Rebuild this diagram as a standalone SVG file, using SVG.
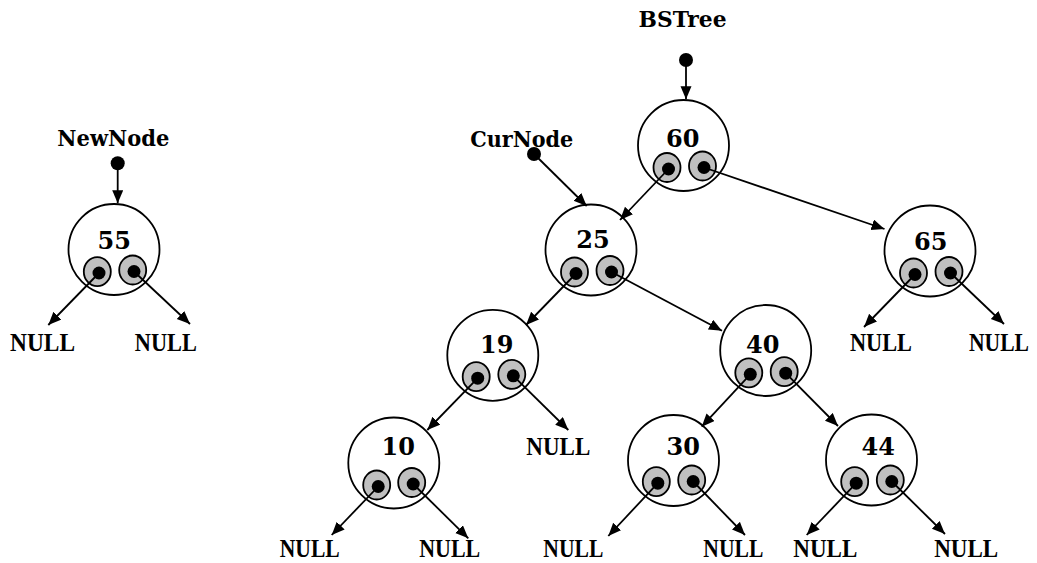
<svg xmlns="http://www.w3.org/2000/svg" width="1037" height="563" viewBox="0 0 1037 563">
<style>
.c{fill:#fff;stroke:#000;stroke-width:1.8}
.g{fill:#c0c0c0;stroke:#000;stroke-width:1.8}
.d{fill:#000}
.num{font-family:"DejaVu Serif",serif;font-weight:bold;font-size:24px;text-anchor:middle;fill:#000}
.lbl{font-family:"DejaVu Serif",serif;font-weight:bold;font-size:22px;text-anchor:middle;fill:#000}
.nul{font-family:"Liberation Serif",serif;font-weight:bold;font-size:25px;text-anchor:middle;fill:#000}
.e{stroke:#000;stroke-width:1.8;fill:none;marker-end:url(#ah)}
</style>
<defs>
<marker id="ah" markerUnits="userSpaceOnUse" markerWidth="14" markerHeight="12" refX="13" refY="5.5" orient="auto">
<path d="M0,0 L13,5.5 L0,11 z" fill="#000"/>
</marker>
</defs>
<rect width="1037" height="563" fill="#fff"/>
<g id="labels">
<text class="lbl" x="682.5" y="26.5" textLength="88" lengthAdjust="spacingAndGlyphs">BSTree</text>
<text class="lbl" x="113.3" y="146" textLength="112" lengthAdjust="spacingAndGlyphs">NewNode</text>
<text class="lbl" x="521.7" y="146.5" textLength="103" lengthAdjust="spacingAndGlyphs">CurNode</text>
<circle class="d" cx="117.7" cy="163.3" r="7"/>
<circle class="d" cx="686" cy="60" r="7"/>
<circle class="d" cx="534" cy="154" r="7"/>
</g>
<g id="n55">
<circle class="c" cx="114" cy="249.5" r="45.5"/>
<text class="num" x="114.3" y="249.3">55</text>
<ellipse class="g" cx="97.3" cy="271.7" rx="13.5" ry="14.5"/>
<ellipse class="g" cx="132.7" cy="270" rx="13.5" ry="14.5"/>
<circle class="d" cx="99" cy="273" r="6.5"/>
<circle class="d" cx="134" cy="271.5" r="6.5"/>
</g>
<g id="n60">
<circle class="c" cx="683.5" cy="145.5" r="45.5"/>
<text class="num" x="682.7" y="146.7">60</text>
<ellipse class="g" cx="667" cy="167.5" rx="13.5" ry="14.5"/>
<ellipse class="g" cx="702.5" cy="166" rx="13.5" ry="14.5"/>
<circle class="d" cx="668.5" cy="169" r="6.5"/>
<circle class="d" cx="704" cy="167.5" r="6.5"/>
</g>
<g id="n25">
<circle class="c" cx="591" cy="250" r="45.5"/>
<text class="num" x="593" y="248.3">25</text>
<ellipse class="g" cx="574.5" cy="272" rx="13.5" ry="14.5"/>
<ellipse class="g" cx="610" cy="270.5" rx="13.5" ry="14.5"/>
<circle class="d" cx="576" cy="273.5" r="6.5"/>
<circle class="d" cx="611.5" cy="272" r="6.5"/>
</g>
<g id="n65">
<circle class="c" cx="930" cy="251" r="45.5"/>
<text class="num" x="930.7" y="250">65</text>
<ellipse class="g" cx="913.5" cy="273" rx="13.5" ry="14.5"/>
<ellipse class="g" cx="949" cy="271.5" rx="13.5" ry="14.5"/>
<circle class="d" cx="915" cy="274.5" r="6.5"/>
<circle class="d" cx="950.5" cy="273" r="6.5"/>
</g>
<g id="n19">
<circle class="c" cx="492.8" cy="355.3" r="45.5"/>
<text class="num" x="496.7" y="352.7">19</text>
<ellipse class="g" cx="476.2" cy="376.7" rx="13.5" ry="14.5"/>
<ellipse class="g" cx="511.8" cy="374.3" rx="13.5" ry="14.5"/>
<circle class="d" cx="477.7" cy="378.2" r="6.5"/>
<circle class="d" cx="513.3" cy="375.8" r="6.5"/>
</g>
<g id="n40">
<circle class="c" cx="765.7" cy="350.5" r="45.5"/>
<text class="num" x="762.8" y="352.7">40</text>
<ellipse class="g" cx="748.8" cy="372.8" rx="13.5" ry="14.5"/>
<ellipse class="g" cx="784.2" cy="371.7" rx="13.5" ry="14.5"/>
<circle class="d" cx="750.3" cy="374.3" r="6.5"/>
<circle class="d" cx="785.7" cy="373.2" r="6.5"/>
</g>
<g id="n10">
<circle class="c" cx="393.8" cy="463" r="45.5"/>
<text class="num" x="398.3" y="455">10</text>
<ellipse class="g" cx="376.7" cy="485" rx="13.5" ry="14.5"/>
<ellipse class="g" cx="411.7" cy="482.5" rx="13.5" ry="14.5"/>
<circle class="d" cx="378.2" cy="486.5" r="6.5"/>
<circle class="d" cx="413.2" cy="484" r="6.5"/>
</g>
<g id="n30">
<circle class="c" cx="673.5" cy="460.5" r="45.5"/>
<text class="num" x="683.3" y="455">30</text>
<ellipse class="g" cx="656.3" cy="481.7" rx="13.5" ry="14.5"/>
<ellipse class="g" cx="691.7" cy="480" rx="13.5" ry="14.5"/>
<circle class="d" cx="657.8" cy="483.2" r="6.5"/>
<circle class="d" cx="693.2" cy="481.5" r="6.5"/>
</g>
<g id="n44">
<circle class="c" cx="871.5" cy="460" r="45.5"/>
<text class="num" x="878.3" y="455">44</text>
<ellipse class="g" cx="854.7" cy="481.7" rx="13.5" ry="14.5"/>
<ellipse class="g" cx="890.3" cy="480" rx="13.5" ry="14.5"/>
<circle class="d" cx="856.2" cy="483.2" r="6.5"/>
<circle class="d" cx="891.8" cy="481.5" r="6.5"/>
</g>
<g id="nulls">
<text class="nul" x="42.5" y="351" textLength="65" lengthAdjust="spacingAndGlyphs">NULL</text>
<text class="nul" x="165.8" y="351" textLength="62" lengthAdjust="spacingAndGlyphs">NULL</text>
<text class="nul" x="881" y="351" textLength="62" lengthAdjust="spacingAndGlyphs">NULL</text>
<text class="nul" x="999" y="351" textLength="60" lengthAdjust="spacingAndGlyphs">NULL</text>
<text class="nul" x="558.3" y="455" textLength="64" lengthAdjust="spacingAndGlyphs">NULL</text>
<text class="nul" x="309.7" y="556.5" textLength="60" lengthAdjust="spacingAndGlyphs">NULL</text>
<text class="nul" x="449.7" y="556.5" textLength="61" lengthAdjust="spacingAndGlyphs">NULL</text>
<text class="nul" x="573.3" y="556.5" textLength="60" lengthAdjust="spacingAndGlyphs">NULL</text>
<text class="nul" x="733.3" y="556.5" textLength="60" lengthAdjust="spacingAndGlyphs">NULL</text>
<text class="nul" x="825.3" y="556.5" textLength="64" lengthAdjust="spacingAndGlyphs">NULL</text>
<text class="nul" x="966.2" y="556.5" textLength="64" lengthAdjust="spacingAndGlyphs">NULL</text>
</g>
<g id="connectors">
<line class="e" x1="117.7" y1="163.3" x2="117.7" y2="203.3"/>
<line class="e" x1="686" y1="60" x2="686" y2="99.3"/>
<line class="e" x1="534" y1="154" x2="586.7" y2="206"/>
<line class="e" x1="99" y1="273" x2="48.3" y2="325"/>
<line class="e" x1="134" y1="271.5" x2="190" y2="324"/>
<line class="e" x1="668.5" y1="169" x2="620" y2="220"/>
<line class="e" x1="704" y1="167.5" x2="884.5" y2="229"/>
<line class="e" x1="576" y1="273.5" x2="526" y2="325"/>
<line class="e" x1="611.5" y1="272" x2="722" y2="330.7"/>
<line class="e" x1="915" y1="274.5" x2="864" y2="327"/>
<line class="e" x1="950.5" y1="273" x2="1004" y2="324"/>
<line class="e" x1="477.7" y1="378.2" x2="427.3" y2="430"/>
<line class="e" x1="513.3" y1="375.8" x2="568.3" y2="430"/>
<line class="e" x1="750.3" y1="374.3" x2="701.7" y2="426.7"/>
<line class="e" x1="785.7" y1="373.2" x2="838" y2="426"/>
<line class="e" x1="378.2" y1="486.5" x2="331.7" y2="535"/>
<line class="e" x1="413.2" y1="484" x2="468.3" y2="538.3"/>
<line class="e" x1="657.8" y1="483.2" x2="608.3" y2="536"/>
<line class="e" x1="693.2" y1="481.5" x2="745" y2="535"/>
<line class="e" x1="856.2" y1="483.2" x2="806.7" y2="535"/>
<line class="e" x1="891.8" y1="481.5" x2="945" y2="534"/>
</g>
</svg>
